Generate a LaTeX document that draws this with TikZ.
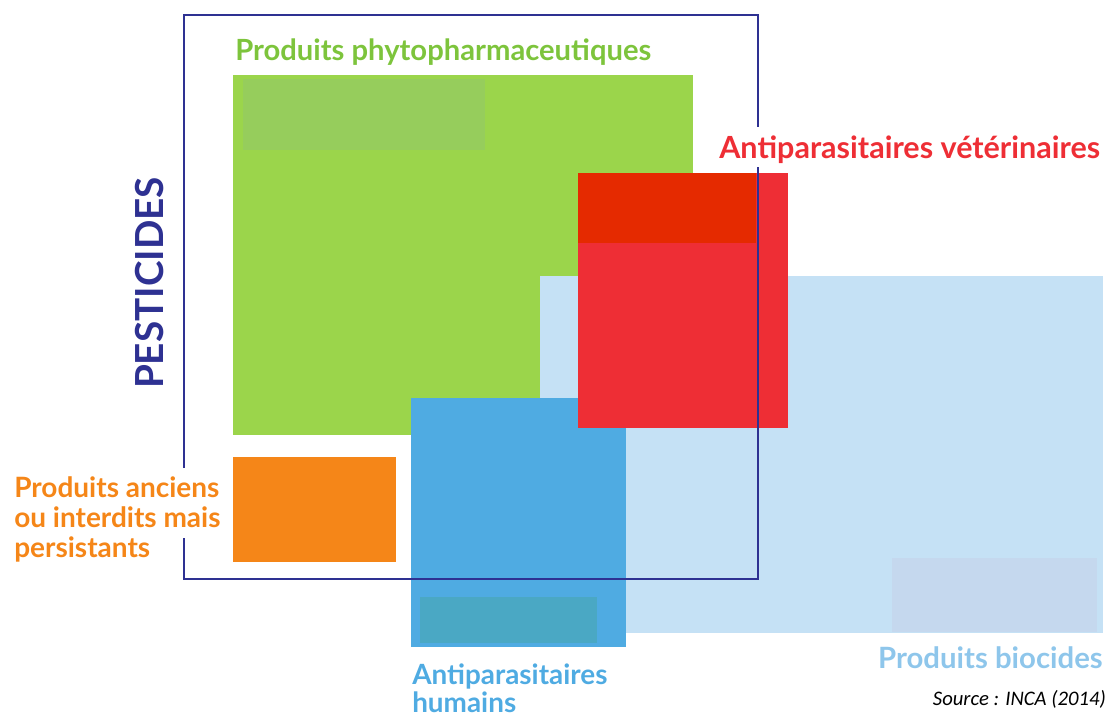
\documentclass[tikz,border=0pt]{standalone}
\usepackage{fontspec}
\setmainfont{Lato}
\newfontfamily\sourcefont{Carlito}
\usetikzlibrary{positioning}
\definecolor{pestblue}{RGB}{46,49,146}
\definecolor{phytogreen}{RGB}{155,213,75}
\definecolor{phytoinner}{RGB}{150,205,92}
\definecolor{phytotext}{RGB}{125,196,60}
\definecolor{vetred}{RGB}{238,46,53}
\definecolor{vetdark}{RGB}{229,42,0}
\definecolor{biolight}{RGB}{197,225,245}
\definecolor{bioinner}{RGB}{197,216,238}
\definecolor{biotext}{RGB}{142,198,235}
\definecolor{humblue}{RGB}{79,171,226}
\definecolor{huminner}{RGB}{74,168,196}
\definecolor{oldorange}{RGB}{245,134,24}
\tikzset{
  frame_line/.style={draw=pestblue, line width=2pt},
  label_text/.style={inner sep=0pt, font=\bfseries, align=left},
}

\begin{document}
\begin{tikzpicture}[x=0.75pt, y=-0.75pt]
    \useasboundingbox (0,0) rectangle (1109,718);
    % define corners
    % phytopharmaceutiques
    \coordinate (phyto_nw) at (233,75);
    \coordinate (phyto_se) at (693,435);
    \coordinate (phyto_in_nw) at (243,79);
    \coordinate (phyto_in_se) at (485,150);
    % biocides
    \coordinate (bio_nw) at (540,276);
    \coordinate (bio_se) at (1103,633);
    \coordinate (bio_in_nw) at (892,558);
    \coordinate (bio_in_se) at (1097,632);
    % humains
    \coordinate (hum_nw) at (411,398);
    \coordinate (hum_se) at (626,647);
    \coordinate (hum_in_nw) at (420,597);
    \coordinate (hum_in_se) at (597,643);
    % veterinaires
    \coordinate (vet_nw) at (578,173);
    \coordinate (vet_se) at (788,428);
    \coordinate (vet_in_se) at (756,243);
    % anciens
    \coordinate (old_nw) at (233,457);
    \coordinate (old_se) at (396,562);
    % pesticides frame
    \coordinate (frame_nw) at (184,15);
    \coordinate (frame_ne) at (758,15);
    \coordinate (frame_se) at (758,579);
    \coordinate (frame_sw) at (184,579);
    \coordinate (gap_right_up) at (758,127);
    \coordinate (gap_right_down) at (758,167);
    \coordinate (gap_left_up) at (184,468);
    \coordinate (gap_left_down) at (184,538);
    % draw boxes
    \fill[phytogreen] (phyto_nw) rectangle (phyto_se);
    \fill[phytoinner] (phyto_in_nw) rectangle (phyto_in_se);
    \fill[biolight] (bio_nw) rectangle (bio_se);
    \fill[bioinner] (bio_in_nw) rectangle (bio_in_se);
    \fill[humblue] (hum_nw) rectangle (hum_se);
    \fill[huminner] (hum_in_nw) rectangle (hum_in_se);
    \fill[vetred] (vet_nw) rectangle (vet_se);
    \fill[vetdark] (vet_nw) rectangle (vet_in_se);
    \fill[oldorange] (old_nw) rectangle (old_se);
    % draw frame (open where the labels cross it)
    \draw[frame_line] (gap_left_up) -- (frame_nw) -- (frame_ne) -- (gap_right_up);
    \draw[frame_line] (gap_right_down) -- (frame_se) -- (frame_sw) -- (gap_left_down);
    % add labels
    \node[label_text, anchor=base west, text=phytotext, font=\bfseries\fontsize{21.9}{26}\selectfont] (phyto_label) at (235,60) {Produits phytopharmaceutiques};
    \node[label_text, anchor=base west, text=vetred, font=\bfseries\fontsize{22.9}{27}\selectfont] (vet_label) at (719,158) {Antiparasitaires vétérinaires};
    \node[label_text, anchor=north west, text=humblue, font=\bfseries\fontsize{20.9}{21}\selectfont] (hum_label) at (412,664) {Antiparasitaires\\humains};
    \node[label_text, anchor=base east, text=biotext, font=\bfseries\fontsize{22}{26}\selectfont] (bio_label) at (1103,668) {Produits biocides};
    \node[label_text, anchor=north west, text=oldorange, font=\bfseries\fontsize{21}{22.5}\selectfont] (old_label) at (14,476) {Produits anciens\\ou interdits mais\\persistants};
    \node[label_text, rotate=90, text=pestblue, font=\bfseries\fontsize{29}{34}\selectfont] (pest_label) at (150,283) {PESTICIDES};
    \node[inner sep=0pt, anchor=base east, font=\sourcefont\itshape\fontsize{15.5}{18}\selectfont] (source_label) at (1106,705) {Source : INCA (2014)};
\end{tikzpicture}
\end{document}
